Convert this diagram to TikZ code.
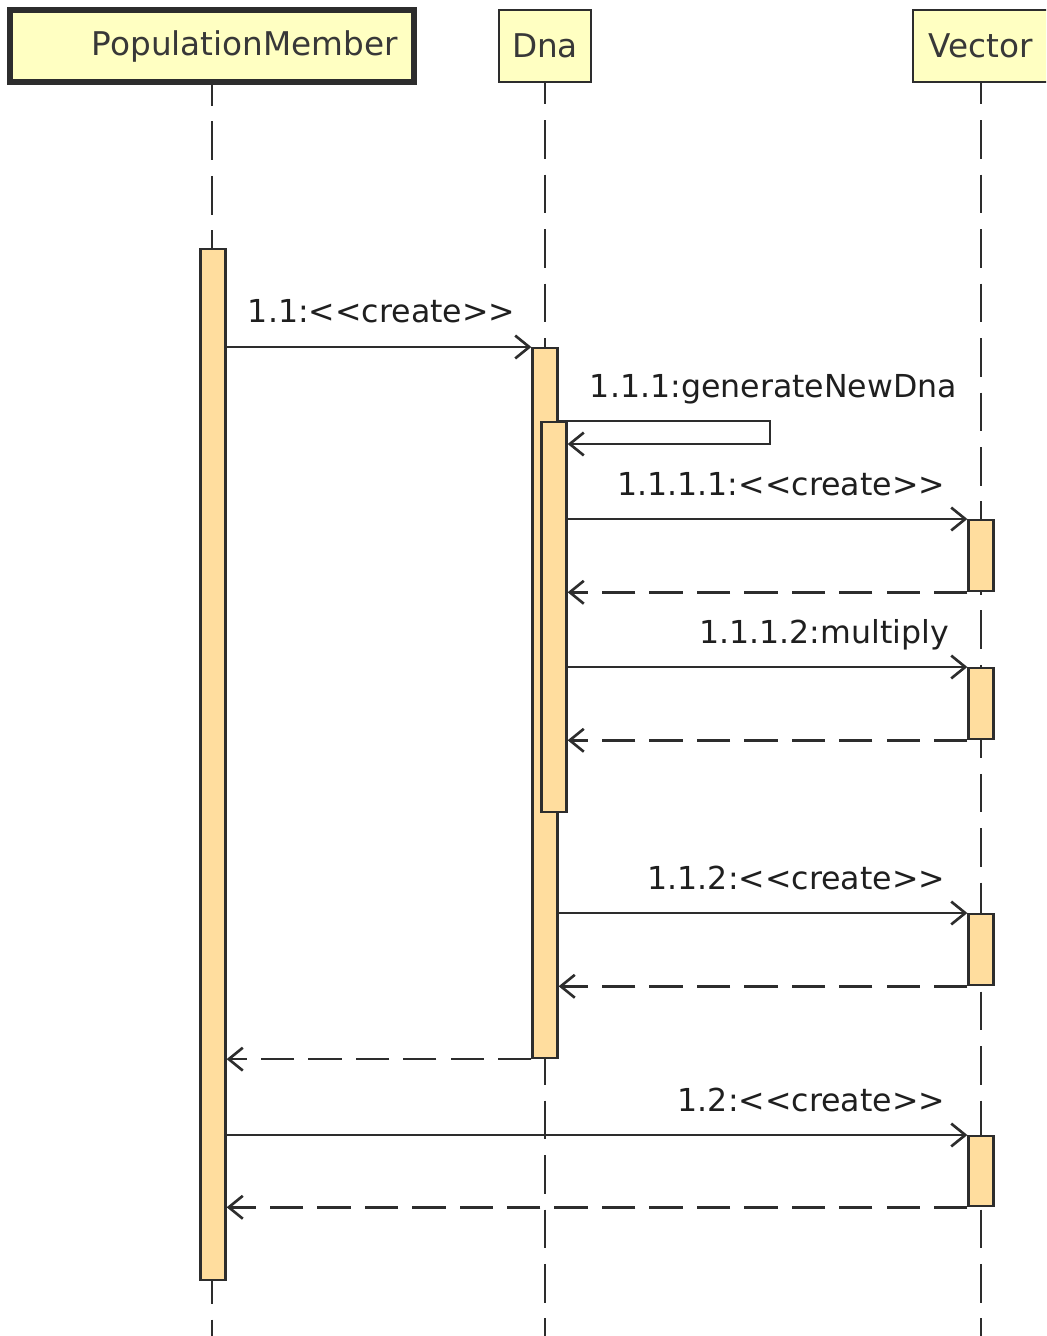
\documentclass[tikz,border=0pt]{standalone}
\usepackage{fontspec}
\setmainfont{DejaVu Sans}
\usetikzlibrary{arrows.meta}

\definecolor{headfill}{RGB}{255,255,194}
\definecolor{actfill}{RGB}{255,221,158}
\definecolor{linecol}{RGB}{45,45,45}

\tikzset{
  headbox/.style={draw=linecol,fill=headfill,line width=1.5pt,minimum height=1.44cm,
    inner sep=0pt,font=\fontsize{18.6}{20}\selectfont,text=black!78},
  actbar/.style={draw=linecol,fill=actfill,line width=1.3pt,minimum width=0.5cm,
    inner sep=0pt,anchor=north},
  lifeline/.style={linecol,line width=1.3pt,dash pattern=on 22pt off 9pt,dash phase=10pt},
  msg/.style={linecol,line width=1.5pt,-{Straight Barb[length=8pt,width=13pt]}},
  ret/.style={msg,dash pattern=on 19pt off 8pt},
  lbl/.style={font=\fontsize{18}{20}\selectfont,text=black!88,inner sep=0pt},
}

\begin{document}
\begin{tikzpicture}[x=0.02cm,y=-0.02cm]
        \clip (0,0) rectangle (1046,1336) ;
        % objects
        \node[headbox,line width=2.9pt,minimum width=8.08cm,text width=7.44cm,align=right]
          (pm) at (212,46) {PopulationMember} ;
        \node[headbox,minimum width=1.84cm] (dna) at (545,46) {Dna} ;
        \node[headbox,minimum width=2.72cm] (vec) at (981,46) {Vector} ;
        % lifelines
        \draw[lifeline] (pm.south) -- (pm.south |- 0,1370) ;
        \draw[lifeline] (dna.south) -- (dna.south |- 0,1370) ;
        \draw[lifeline] (vec.south) -- (vec.south |- 0,1370) ;
        % activations
        \node[actbar,minimum height=20.62cm] (pmA) at (213,248) {} ;
        \node[actbar,minimum height=14.2cm] (dnaA) at (545,347) {} ;
        \node[actbar,minimum height=7.8cm] (dnaB) at (554,421) {} ;
        \node[actbar,minimum height=1.42cm] (vecA) at (981,519) {} ;
        \node[actbar,minimum height=1.42cm] (vecB) at (981,667) {} ;
        \node[actbar,minimum height=1.42cm] (vecC) at (981,913) {} ;
        \node[actbar,minimum height=1.4cm] (vecD) at (981,1135) {} ;
        % messages
        \draw[msg] (pmA.east |- dnaA.north)
          node[lbl,anchor=base west,xshift=0.4cm,yshift=0.5cm] {1.1:<{}<create>{}>}
          -- (dnaA.north west) ;
        \coordinate (turn) at (770,444) ;
        \draw[msg] (dnaA.east |- dnaB.north)
          node[lbl,anchor=base west,xshift=0.6cm,yshift=0.48cm] {1.1.1:generateNewDna}
          -| (turn) -- (dnaB.east |- turn) ;
        \draw[msg] (dnaB.east |- vecA.north) -- (vecA.north west)
          node[lbl,anchor=base east,xshift=-0.42cm,yshift=0.48cm] {1.1.1.1:<{}<create>{}>} ;
        \draw[ret] (vecA.south west) -- (dnaB.east |- vecA.south) ;
        \draw[msg] (dnaB.east |- vecB.north) -- (vecB.north west)
          node[lbl,anchor=base east,xshift=-0.34cm,yshift=0.48cm] {1.1.1.2:multiply} ;
        \draw[ret] (vecB.south west) -- (dnaB.east |- vecB.south) ;
        \draw[msg] (dnaA.east |- vecC.north) -- (vecC.north west)
          node[lbl,anchor=base east,xshift=-0.42cm,yshift=0.48cm] {1.1.2:<{}<create>{}>} ;
        \draw[ret] (vecC.south west) -- (dnaA.east |- vecC.south) ;
        \draw[ret] (dnaA.south west) -- (pmA.east |- dnaA.south) ;
        \draw[msg] (pmA.east |- vecD.north) -- (vecD.north west)
          node[lbl,anchor=base east,xshift=-0.42cm,yshift=0.48cm] {1.2:<{}<create>{}>} ;
        \draw[ret] (vecD.south west) -- (pmA.east |- vecD.south) ;
      \end{tikzpicture}
\end{document}
